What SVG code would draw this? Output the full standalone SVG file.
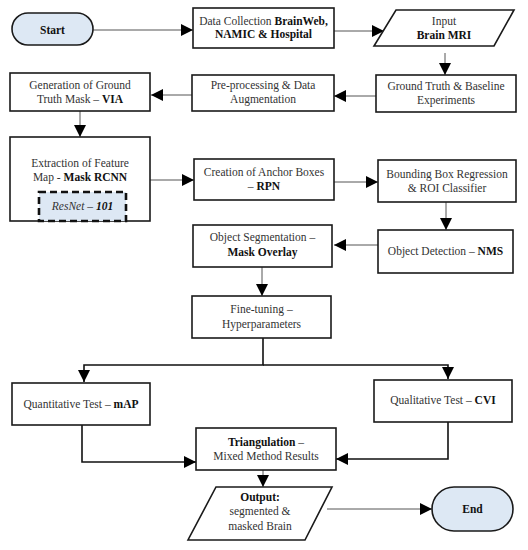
<svg xmlns="http://www.w3.org/2000/svg" width="528" height="550" viewBox="0 0 528 550">
<defs>
<marker id="ah" markerUnits="userSpaceOnUse" markerWidth="13" markerHeight="13" refX="12" refY="6.5" orient="auto"><path d="M0,0.5 L12,6.5 L0,12.5 z" fill="#000"/></marker>
</defs>
<style>
.box{fill:#fff;stroke:#1a1a1a;stroke-width:1.6}
.term{fill:#dde8f4;stroke:#1a1a1a;stroke-width:1.6}
.dash{fill:#dde8f4;stroke:#111;stroke-width:2.6;stroke-dasharray:7,4}
text{font-family:"Liberation Serif","Times New Roman",serif;font-size:11.5px;fill:#333;text-anchor:middle}
.b{font-weight:bold;fill:#111}
.i{font-style:italic}
.c{fill:none;stroke:#555;stroke-width:1;marker-end:url(#ah)}
.ct{fill:none;stroke:#111;stroke-width:1.6;marker-end:url(#ah)}
</style>
<rect width="528" height="550" fill="#fff"/>
<g id="connectors">
<line class="c" x1="93" y1="30" x2="193" y2="30"/>
<line class="c" x1="334" y1="31" x2="384" y2="31"/>
<line class="c" x1="445" y1="53" x2="445" y2="75"/>
<line class="c" x1="376" y1="96" x2="334" y2="96"/>
<line class="c" x1="192" y1="95" x2="151" y2="95"/>
<line class="c" x1="80" y1="111" x2="80" y2="137"/>
<line class="c" x1="150" y1="180" x2="194" y2="180"/>
<line class="c" x1="334" y1="182" x2="378" y2="182"/>
<line class="c" x1="446" y1="202" x2="446" y2="230"/>
<line class="c" x1="378" y1="245" x2="334" y2="245"/>
<line class="c" x1="262" y1="267" x2="262" y2="296"/>
<path class="ct" d="M263,338 V365 H84 V382"/>
<path class="ct" d="M263,365 H448 V379"/>
<path class="ct" d="M82,425 V462 H196"/>
<path class="ct" d="M448,422 V459 H336"/>
<line class="c" x1="263" y1="470" x2="263" y2="487"/>
<line class="c" x1="327" y1="509" x2="432" y2="509"/>
</g>
<g id="start"><rect class="term" x="12" y="13" width="81" height="32" rx="16"/><text class="b" x="52.5" y="33.5">Start</text></g>
<g id="data-collection"><rect class="box" x="193" y="8" width="141" height="40"/><text x="263.5" y="25">Data Collection  <tspan class="b">BrainWeb,</tspan></text><text class="b" x="263.5" y="38">NAMIC &amp; Hospital</text></g>
<g id="input"><polygon class="box" points="396,10 514,10 494,46 374,46"/><text x="444" y="25">Input</text><text class="b" x="444" y="39">Brain MRI</text></g>
<g id="ground-truth"><rect class="box" x="376" y="75" width="140" height="37"/><text x="446" y="90">Ground Truth &amp; Baseline</text><text x="446" y="104">Experiments</text></g>
<g id="preprocessing"><rect class="box" x="192" y="75" width="142" height="36"/><text x="263" y="89">Pre-processing &amp; Data</text><text x="263" y="103">Augmentation</text></g>
<g id="generation"><rect class="box" x="10" y="73" width="140" height="38"/><text x="80" y="89">Generation of Ground</text><text x="80" y="103">Truth Mask – <tspan class="b">VIA</tspan></text></g>
<g id="extraction"><rect class="box" x="10" y="137" width="140" height="84"/><text x="80" y="167">Extraction of Feature</text><text x="80" y="181">Map - <tspan class="b">Mask RCNN</tspan></text></g>
<g id="resnet"><rect class="dash" x="39" y="192" width="87" height="29"/><text class="i" x="82.5" y="210">ResNet – <tspan class="b">101</tspan></text></g>
<g id="creation"><rect class="box" x="194" y="159" width="140" height="41"/><text x="264" y="176">Creation of Anchor Boxes</text><text x="264" y="190">– <tspan class="b">RPN</tspan></text></g>
<g id="bounding"><rect class="box" x="378" y="160" width="138" height="42"/><text x="447" y="178">Bounding Box Regression</text><text x="447" y="192">&amp; ROI Classifier</text></g>
<g id="object-detection"><rect class="box" x="378" y="230" width="135" height="43"/><text x="445.5" y="255">Object Detection – <tspan class="b">NMS</tspan></text></g>
<g id="object-segmentation"><rect class="box" x="193" y="225" width="139" height="42"/><text x="262.5" y="241">Object Segmentation –</text><text class="b" x="262.5" y="256">Mask Overlay</text></g>
<g id="fine-tuning"><rect class="box" x="192" y="296" width="139" height="42"/><text x="261.5" y="313">Fine-tuning –</text><text x="261.5" y="328">Hyperparameters</text></g>
<g id="quantitative"><rect class="box" x="12" y="383" width="138" height="42"/><text x="81" y="408">Quantitative Test – <tspan class="b">mAP</tspan></text></g>
<g id="qualitative"><rect class="box" x="374" y="380" width="138" height="42"/><text x="443" y="404">Qualitative Test – <tspan class="b">CVI</tspan></text></g>
<g id="triangulation"><rect class="box" x="196" y="428" width="140" height="42"/><text x="266" y="446"><tspan class="b">Triangulation</tspan>  –</text><text x="266" y="460">Mixed Method Results</text></g>
<g id="output"><polygon class="box" points="216,487 332,487 305,540 188,540"/><text class="b" x="260" y="501">Output:</text><text x="260" y="515">segmented  &amp;</text><text x="260" y="530">masked Brain</text></g>
<g id="end"><rect class="term" x="432" y="487" width="81" height="44" rx="22"/><text class="b" x="472.5" y="513">End</text></g>
</svg>
